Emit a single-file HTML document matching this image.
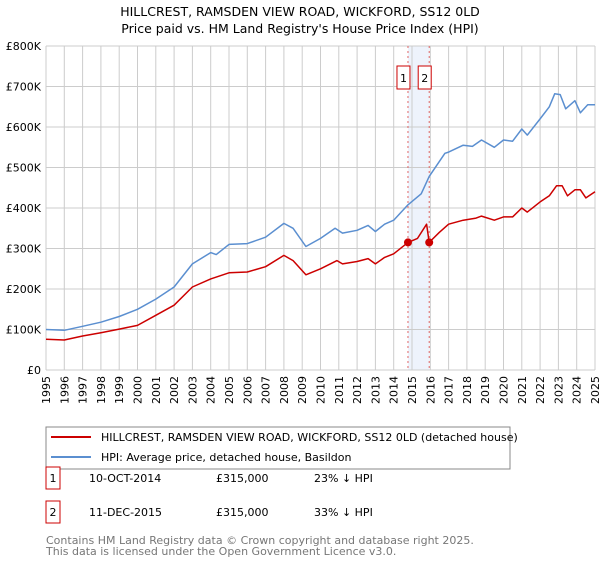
<!DOCTYPE html>
<html><head><meta charset="utf-8"><style>
body{margin:0;background:#fff;width:600px;height:560px;overflow:hidden;font-family:"DejaVu Sans","Liberation Sans",sans-serif;}
svg text{font-family:"DejaVu Sans","Liberation Sans",sans-serif;}
</style></head><body>
<svg id="chart" width="600" height="560" xmlns="http://www.w3.org/2000/svg">
<text x="300" y="16" text-anchor="middle" font-size="12.5">HILLCREST, RAMSDEN VIEW ROAD, WICKFORD, SS12 0LD</text>
<text x="300" y="33" text-anchor="middle" font-size="12.5">Price paid vs. HM Land Registry's House Price Index (HPI)</text>
<g id="grid"></g><g id="series"></g><g id="axes"></g>
<g>
<rect x="46" y="427" width="464" height="42" fill="#fff" stroke="#888"/>
<line x1="51" y1="437" x2="91" y2="437" stroke="#cc0000" stroke-width="2"/>
<text x="101" y="441" font-size="11">HILLCREST, RAMSDEN VIEW ROAD, WICKFORD, SS12 0LD (detached house)</text>
<line x1="51" y1="457" x2="91" y2="457" stroke="#5b8fd0" stroke-width="2"/>
<text x="101" y="461" font-size="11">HPI: Average price, detached house, Basildon</text>
</g>
<g font-size="11">
<rect x="46" y="467" width="14" height="22" fill="#fff" stroke="#cc0000"/>
<text x="53" y="482" text-anchor="middle">1</text>
<text x="89" y="482">10-OCT-2014</text>
<text x="216" y="482">£315,000</text>
<text x="314" y="482">23% ↓ HPI</text>
<rect x="46" y="501" width="14" height="22" fill="#fff" stroke="#cc0000"/>
<text x="53" y="516" text-anchor="middle">2</text>
<text x="89" y="516">11-DEC-2015</text>
<text x="216" y="516">£315,000</text>
<text x="314" y="516">33% ↓ HPI</text>
</g>
<text x="46" y="544" font-size="11" fill="#777">Contains HM Land Registry data © Crown copyright and database right 2025.</text>
<text x="46" y="555" font-size="11" fill="#777">This data is licensed under the Open Government Licence v3.0.</text>
</svg>
<script>
const yTicks=[0,100000,200000,300000,400000,500000,600000,700000,800000];
const yTickLabels=["£0","£100K","£200K","£300K","£400K","£500K","£600K","£700K","£800K"];
const years=[1995,1996,1997,1998,1999,2000,2001,2002,2003,2004,2005,2006,2007,2008,2009,2010,2011,2012,2013,2014,2015,2016,2017,2018,2019,2020,2021,2022,2023,2024,2025];
const hpiT=[1995,1996,1997,1998,1999,2000,2001,2002,2003,2004,2004.3,2005,2006,2007,2008,2008.5,2009.2,2010,2010.8,2011.2,2012,2012.6,2013,2013.5,2014,2014.78,2015.5,2015.94,2016.8,2017,2017.8,2018.3,2018.8,2019.5,2020,2020.5,2021,2021.3,2022,2022.5,2022.8,2023.1,2023.4,2023.9,2024.2,2024.6,2025];
const hpiV=[100,98,108,118,132,150,175,205,262,290,285,310,312,328,362,350,305,325,350,338,345,357,342,360,370,408,435,478,535,538,555,552,568,550,568,565,595,580,620,650,682,680,645,665,635,655,655];
const propT=[1995,1996,1997,1998,1999,2000,2001,2002,2003,2004,2005,2006,2007,2008,2008.5,2009.2,2010,2010.9,2011.2,2012,2012.6,2013,2013.5,2014,2014.78,2015.3,2015.8,2015.94,2016.5,2017,2017.8,2018.5,2018.8,2019.5,2020,2020.5,2021,2021.3,2022,2022.5,2022.9,2023.2,2023.5,2023.9,2024.2,2024.5,2025];
const propV=[76,74,84,92,101,110,135,160,205,225,240,242,255,283,270,235,250,270,262,268,275,262,278,287,315,325,360,315,340,360,370,375,380,370,378,378,400,390,415,430,455,455,430,445,445,425,440];
const saleT=[2014.78,2015.94];
const saleV=[315,315];
const saleLabels=["1","2"];
const X0=46,X1=595,Y0=370,Y1=46;
const x=t=>X0+(t-1995)/30*(X1-X0);
const y=v=>Y0-v/800000*(Y0-Y1);
const NS="http://www.w3.org/2000/svg";
function mk(tag,attrs,parent){const e=document.createElementNS(NS,tag);for(const k in attrs)e.setAttribute(k,attrs[k]);parent.appendChild(e);return e;}
const grid=document.getElementById('grid'),ser=document.getElementById('series'),ax=document.getElementById('axes');
let band=mk('rect',{x:x(saleT[0]),y:Y1,width:x(saleT[1])-x(saleT[0]),height:Y0-Y1,fill:'#eef3fc'},grid);


yTicks.forEach((v,i)=>{
 let l=mk('line',{x1:X0,x2:X1,y1:y(v),y2:y(v),stroke:'#ccc','stroke-width':1},grid);
 
 
 let t=mk('text',{x:X0-5,y:y(v)+4,'text-anchor':'end','font-size':11},ax);
 t.textContent=yTickLabels[i];
 
 
});
years.forEach(yr=>{
 let l=mk('line',{x1:x(yr),x2:x(yr),y1:Y1,y2:Y0,stroke:'#ccc','stroke-width':1},grid);
 
 
 let t=mk('text',{x:0,y:0,'text-anchor':'end','font-size':11,transform:`translate(${x(yr)+4},${Y0+6}) rotate(-90)`},ax);
 t.textContent=yr;
 
 
});
saleT.forEach((t,i)=>{
 let l=mk('line',{x1:x(t),x2:x(t),y1:Y1,y2:Y0,stroke:'#e06666','stroke-width':1,'stroke-dasharray':'2,3'},grid);
 
 
 let r=mk('rect',{x:x(t)-11,y:66,width:13,height:23,fill:'#fff',stroke:'#cc0000'},ax);
 
 
 let tx=mk('text',{x:x(t)-4.5,y:82,'text-anchor':'middle','font-size':11},ax);
 tx.textContent=saleLabels[i];
 
 
});
function path(T,V,color,name){
 const d=T.map((t,i)=>(i?'L':'M')+x(t).toFixed(1)+','+y(V[i]*1000).toFixed(1)).join('');
 const p=mk('path',{d:d,fill:'none',stroke:color,'stroke-width':1.5,'stroke-linejoin':'round'},ser);
 
 
}
path(hpiT,hpiV,'#5b8fd0','hpi-line');
path(propT,propV,'#cc0000','property-price-line');
saleT.forEach((t,i)=>{
 const c=mk('circle',{cx:x(t),cy:y(saleV[i]*1000),r:4,fill:'#cc0000'},ser);
 
 
});
</script>
</body></html>
